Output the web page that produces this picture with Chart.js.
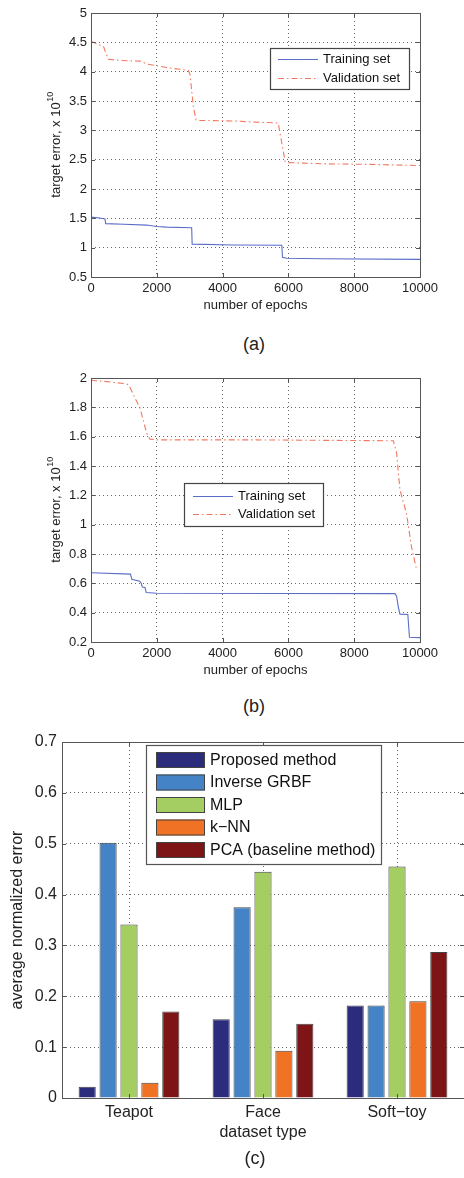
<!DOCTYPE html>
<html>
<head>
<meta charset="utf-8">
<script src="https://cdn.jsdelivr.net/npm/chart.js@4.4.1/dist/chart.umd.min.js"></script>
<style>
  html, body { margin:0; padding:0; background:#fff; width:464px; height:1178px; overflow:hidden; }
  canvas { position:absolute; left:0; }
  .cap { position:absolute; width:100px; text-align:center; font:18px "Liberation Sans", Arial, sans-serif; color:#222; line-height:20px; }
</style>
</head>
<body>
<canvas id="ca" width="464" height="320" style="top:0px"></canvas>
<div class="cap" style="left:204px; top:334px">(a)</div>
<canvas id="cb" width="464" height="320" style="top:365px"></canvas>
<div class="cap" style="left:204px; top:696px">(b)</div>
<canvas id="cc" width="465" height="430" style="top:720px"></canvas>
<div class="cap" style="left:205px; top:1148px">(c)</div>
<script>
// ---------- DATA ----------
// (a)
const trainA_x = [0, 270, 425, 445, 1000, 1690, 2000, 2300, 3060, 3075, 4330, 5800, 5820, 5950, 7000, 10000];
const trainA_y = [1.52, 1.505, 1.49, 1.41, 1.40, 1.385, 1.36, 1.35, 1.34, 1.06, 1.045, 1.04, 0.835, 0.82, 0.81, 0.80];
const valA_x = [0, 150, 280, 380, 430, 530, 900, 1500, 1700, 2000, 2300, 2700, 2960, 3010, 3110, 3190, 3300, 4300, 5000, 5690, 5800, 5900, 6000, 7000, 8400, 10000];
const valA_y = [4.52, 4.48, 4.45, 4.43, 4.35, 4.21, 4.19, 4.18, 4.13, 4.10, 4.07, 4.04, 4.02, 3.95, 3.41, 3.18, 3.17, 3.16, 3.14, 3.125, 2.78, 2.47, 2.45, 2.43, 2.42, 2.40];
// (b)
const trainB_x = [0, 1200, 1240, 1480, 1520, 1560, 1640, 1680, 2000, 9240, 9290, 9340, 9390, 9630, 9680, 10000];
const trainB_y = [0.672, 0.663, 0.628, 0.615, 0.604, 0.575, 0.571, 0.537, 0.532, 0.53, 0.51, 0.44, 0.39, 0.388, 0.232, 0.23];
const valB_x = [0, 500, 1085, 1155, 1300, 1490, 1690, 1790, 2000, 5000, 9190, 9290, 9390, 9590, 9740, 9890];
const valB_y = [1.985, 1.975, 1.96, 1.95, 1.88, 1.795, 1.624, 1.583, 1.578, 1.578, 1.572, 1.487, 1.237, 1.077, 0.85, 0.70];
const seriesLabels = ['Training set', 'Validation set'];
// (c)
const categories = ['Teapot', 'Face', 'Soft\u2212toy'];
const methods = ['Proposed method', 'Inverse GRBF', 'MLP', 'k\u2212NN', 'PCA (baseline method)'];
const proposed = [0.022, 0.155, 0.182];
const inverseGRBF = [0.502, 0.375, 0.182];
const mlp = [0.341, 0.445, 0.455];
const knn = [0.030, 0.093, 0.190];
const pca = [0.170, 0.146, 0.287];

// ---------- STYLE / HELPERS ----------
const FONT = '"Liberation Sans", Arial, Helvetica, sans-serif';
const TXT = '#222';
const GRID = '#666';
const FRAME = '#555';

function pts(xs, ys) { return xs.map((x, i) => ({x: x, y: ys[i]})); }

const framePlugin = {
  id: 'frame',
  afterDraw(chart) {
    const {ctx, chartArea: a} = chart;
    const xs = chart.scales.x, ys = chart.scales.y;
    ctx.save();
    ctx.strokeStyle = FRAME; ctx.lineWidth = 1; ctx.setLineDash([]);
    ctx.strokeRect(Math.round(a.left) + 0.5, Math.round(a.top) + 0.5, Math.round(a.right - a.left), Math.round(a.bottom - a.top));
    const L = 4;
    ctx.beginPath();
    xs.ticks.forEach((t, i) => {
      const px = Math.round(xs.getPixelForTick(i)) + 0.5;
      ctx.moveTo(px, a.bottom); ctx.lineTo(px, a.bottom - L);
      ctx.moveTo(px, a.top); ctx.lineTo(px, a.top + L);
    });
    ys.ticks.forEach((t, i) => {
      const py = Math.round(ys.getPixelForTick(i)) + 0.5;
      ctx.moveTo(a.left, py); ctx.lineTo(a.left + L, py);
      ctx.moveTo(a.right, py); ctx.lineTo(a.right - L, py);
    });
    ctx.stroke();
    ctx.restore();
  }
};

function yTitlePlugin(cx, base, sup, size) {
  return {
    id: 'ytitle',
    afterDraw(chart) {
      const {ctx, chartArea: a} = chart;
      const cy = (a.top + a.bottom) / 2;
      ctx.save();
      ctx.translate(cx, cy);
      ctx.rotate(-Math.PI / 2);
      ctx.fillStyle = TXT;
      ctx.textBaseline = 'middle';
      ctx.textAlign = 'left';
      ctx.font = size + 'px ' + FONT;
      const w1 = ctx.measureText(base).width;
      const supSize = Math.round(size * 0.7);
      ctx.font = supSize + 'px ' + FONT;
      const w2 = ctx.measureText(sup).width;
      const x0 = -(w1 + w2) / 2;
      ctx.font = size + 'px ' + FONT;
      ctx.fillText(base, x0, 0);
      ctx.font = supSize + 'px ' + FONT;
      ctx.fillText(sup, x0 + w1 + 0.5, -5);
      ctx.restore();
    }
  };
}

function lineLegendPlugin(box) {
  return {
    id: 'lineLegend',
    afterDraw(chart) {
      const ctx = chart.ctx;
      ctx.save();
      ctx.fillStyle = '#fff';
      ctx.fillRect(box.x, box.y, box.w, box.h);
      ctx.strokeStyle = '#444'; ctx.lineWidth = 1.2; ctx.setLineDash([]);
      ctx.strokeRect(box.x + 0.5, box.y + 0.5, box.w, box.h);
      chart.data.datasets.forEach((ds, i) => {
        const ry = box.rows[i];
        ctx.strokeStyle = ds.borderColor;
        ctx.lineWidth = ds.borderWidth;
        ctx.setLineDash(ds.borderDash || []);
        ctx.beginPath();
        ctx.moveTo(box.lx1, ry + 0.5); ctx.lineTo(box.lx2, ry + 0.5);
        ctx.stroke();
        ctx.setLineDash([]);
        ctx.fillStyle = '#111';
        ctx.font = '13px ' + FONT;
        ctx.textBaseline = 'middle';
        ctx.textAlign = 'left';
        ctx.fillText(ds.label, box.tx, ry);
      });
      ctx.restore();
    }
  };
}

function lineChart(id, tx, ty, vx, vy, ymin, ymax, ystep, legendBox) {
  return new Chart(document.getElementById(id), {
    type: 'scatter',
    data: {
      datasets: [
        { label: seriesLabels[0], data: pts(tx, ty), showLine: true, borderColor: '#5a6ec8', borderWidth: 1.1, pointRadius: 0, tension: 0, fill: false },
        { label: seriesLabels[1], data: pts(vx, vy), showLine: true, borderColor: '#f2785f', borderWidth: 1.1, borderDash: [6, 3, 1.5, 3], pointRadius: 0, tension: 0, fill: false }
      ]
    },
    options: {
      responsive: false, animation: false, devicePixelRatio: 1,
      layout: { padding: { top: 13, right: 44, left: 0, bottom: 0 } },
      plugins: { legend: { display: false }, tooltip: { enabled: false } },
      scales: {
        x: {
          type: 'linear', min: 0, max: 10000,
          ticks: { stepSize: 2000, padding: 4, color: TXT, font: { family: FONT, size: 13 }, callback: v => String(v), maxRotation: 0 },
          grid: { color: GRID, lineWidth: 1, drawTicks: false },
          border: { display: false, dash: [1, 3] },
          title: { display: true, text: 'number of epochs', color: TXT, font: { family: FONT, size: 13 }, padding: { top: 0, bottom: 7 } },
          afterFit: s => { s.height = 43; }
        },
        y: {
          min: ymin, max: ymax,
          ticks: { stepSize: ystep, padding: 4, color: TXT, font: { family: FONT, size: 13 }, callback: v => String(Number(v.toFixed(2))) },
          grid: { color: GRID, lineWidth: 1, drawTicks: false },
          border: { display: false, dash: [1, 3] },
          afterFit: s => { s.width = 91; }
        }
      }
    },
    plugins: [framePlugin, yTitlePlugin(56, 'target error, x 10', '10', 13), lineLegendPlugin(legendBox)]
  });
}

lineChart('ca', trainA_x, trainA_y, valA_x, valA_y, 0.5, 5, 0.5,
  { x: 270, y: 48, w: 139, h: 41, rows: [59, 78], lx1: 278, lx2: 318, tx: 323 });
lineChart('cb', trainB_x, trainB_y, valB_x, valB_y, 0.2, 2, 0.2,
  { x: 184, y: 118, w: 139, h: 43, rows: [131, 149], lx1: 193, lx2: 233, tx: 238 });

// ---------- (c) bar chart ----------
const barColors = ['#2b2c7c', '#4484c6', '#a4ce62', '#f07325', '#7d1416'];
const barSeries = [proposed, inverseGRBF, mlp, knn, pca];

const barLegendPlugin = {
  id: 'barLegend',
  afterDraw(chart) {
    const ctx = chart.ctx;
    const box = { x: 146, y: 25, w: 235, h: 119 };
    const rows = [40, 62.5, 85, 107.5, 130];
    ctx.save();
    ctx.fillStyle = '#fff';
    ctx.fillRect(box.x, box.y, box.w, box.h);
    ctx.strokeStyle = '#555'; ctx.lineWidth = 1.2;
    ctx.strokeRect(box.x + 0.5, box.y + 0.5, box.w, box.h);
    chart.data.datasets.forEach((ds, i) => {
      const ry = rows[i];
      ctx.fillStyle = ds.backgroundColor;
      ctx.fillRect(156, ry - 8, 49, 16);
      ctx.strokeStyle = '#444'; ctx.lineWidth = 1;
      ctx.strokeRect(156.5, ry - 7.5, 48, 15);
      ctx.fillStyle = '#111';
      ctx.font = '16px ' + FONT;
      ctx.textBaseline = 'middle';
      ctx.textAlign = 'left';
      ctx.fillText(ds.label, 210, ry + 0.5);
    });
    ctx.restore();
  }
};

new Chart(document.getElementById('cc'), {
  type: 'bar',
  data: {
    labels: categories,
    datasets: methods.map((m, i) => ({
      label: m, data: barSeries[i], backgroundColor: barColors[i],
      borderColor: '#444', borderWidth: 1, categoryPercentage: 0.78, barPercentage: 0.82
    }))
  },
  options: {
    responsive: false, animation: false, devicePixelRatio: 1,
    layout: { padding: { top: 22, right: 1, left: 0, bottom: 0 } },
    plugins: { legend: { display: false }, tooltip: { enabled: false } },
    scales: {
      x: {
        ticks: { padding: 5, color: TXT, font: { family: FONT, size: 16 }, maxRotation: 0 },
        grid: { color: GRID, lineWidth: 1, drawTicks: false, offset: false },
        border: { display: false, dash: [1, 3] },
        title: { display: true, text: 'dataset type', color: TXT, font: { family: FONT, size: 16 }, padding: { top: 0, bottom: 8 } },
        afterFit: s => { s.height = 52; }
      },
      y: {
        min: 0, max: 0.7,
        ticks: { stepSize: 0.1, padding: 5, color: TXT, font: { family: FONT, size: 16 }, callback: v => String(Number(v.toFixed(2))) },
        grid: { color: GRID, lineWidth: 1, drawTicks: false },
        border: { display: false, dash: [1, 3] },
        title: { display: true, text: 'average normalized error', color: TXT, font: { family: FONT, size: 16 }, padding: { top: 8, bottom: 0 } },
        afterFit: s => { s.width = 62; }
      }
    }
  },
  plugins: [framePlugin, barLegendPlugin]
});
</script>
</body>
</html>
